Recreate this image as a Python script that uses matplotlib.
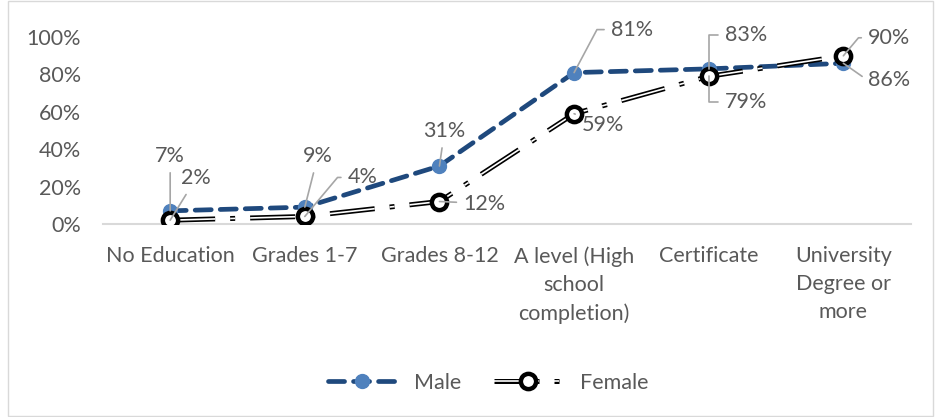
import matplotlib
matplotlib.use('Agg')
import matplotlib.pyplot as plt
from matplotlib.patches import Rectangle
from matplotlib.ticker import PercentFormatter

plt.rcParams['font.family'] = ['Lato', 'DejaVu Sans']

categories = ['No Education', 'Grades 1-7', 'Grades 8-12',
              'A level (High\nschool\ncompletion)', 'Certificate',
              'University\nDegree or\nmore']
male = [0.07, 0.09, 0.31, 0.81, 0.83, 0.86]
female = [0.02, 0.04, 0.12, 0.59, 0.79, 0.90]

# label offsets in pixels (text centre relative to point) and leader shape
male_offsets = [(0, 55), (13, 51), (5, 35), (58, 43), (37, 34), (46, -17)]
female_offsets = [(26, 42), (58, 39), (45, -2), (29, -11), (37, -26), (46, 18)]
male_conn = ['arc3', 'arc3', 'arc3', 'angle,angleA=0,angleB=62,rad=0',
             'angle,angleA=0,angleB=90,rad=0', 'angle,angleA=0,angleB=-35,rad=0']
female_conn = ['arc3', 'angle,angleA=0,angleB=50,rad=0', 'arc3', 'arc3',
               'angle,angleA=0,angleB=90,rad=0', 'angle,angleA=0,angleB=50,rad=0']

TEXT = '#595959'
LEADER = '#a6a6a6'
MALE_LINE = '#1f497d'
MALE_FILL = '#4f81bd'
DASH_F = (9, 3, 1, 3)
FS = 15.5

fig = plt.figure(figsize=(9.35, 4.17), dpi=100)
ax = fig.add_axes([0.110, 0.463, 0.864, 0.448])
x = list(range(len(categories)))

male_line, = ax.plot(x, male, color=MALE_LINE, lw=3.4, dashes=(3.4, 1.9),
                     dash_capstyle='round', marker='o', markersize=10,
                     markerfacecolor=MALE_FILL, markeredgecolor=MALE_FILL,
                     zorder=3, label='Male')

f_outer, = ax.plot(x, female, color='black', lw=3.6, dashes=DASH_F,
                   dash_capstyle='butt', zorder=4)
f_inner, = ax.plot(x, female, color='white', lw=1.2, dashes=[d * 3.6 / 1.2 for d in DASH_F],
                   dash_capstyle='butt', zorder=4)
f_mark, = ax.plot(x, female, ls='none', marker='o', markersize=11,
                  markerfacecolor='white', markeredgecolor='black',
                  markeredgewidth=3.2, zorder=5)

for i, v in enumerate(male):
    ax.annotate('{:.0%}'.format(v), xy=(i, v), xytext=male_offsets[i],
                textcoords='offset pixels', ha='center', va='center',
                fontsize=FS, color=TEXT, zorder=6,
                arrowprops=dict(arrowstyle='-', color=LEADER, lw=1.2,
                                shrinkA=3, shrinkB=0,
                                connectionstyle=male_conn[i]))
for i, v in enumerate(female):
    ax.annotate('{:.0%}'.format(v), xy=(i, v), xytext=female_offsets[i],
                textcoords='offset pixels', ha='center', va='center',
                fontsize=FS, color=TEXT, zorder=6,
                arrowprops=dict(arrowstyle='-', color=LEADER, lw=1.2,
                                shrinkA=3, shrinkB=0,
                                connectionstyle=female_conn[i]))

ax.set_xlim(-0.5, len(categories) - 0.5)
ax.set_ylim(0, 1.0)
ax.set_yticks([0, 0.2, 0.4, 0.6, 0.8, 1.0])
ax.yaxis.set_major_formatter(PercentFormatter(1.0, decimals=0))
ax.set_xticks(x)
ax.set_xticklabels(categories, linespacing=1.5)
ax.tick_params(axis='both', length=0, labelsize=FS, labelcolor=TEXT)
ax.tick_params(axis='x', pad=16)
ax.tick_params(axis='y', pad=16)
for side in ['top', 'right', 'left']:
    ax.spines[side].set_visible(False)
ax.spines['bottom'].set_color('#d9d9d9')
ax.spines['bottom'].set_linewidth(1.5)

fig.legend(handles=[male_line, (f_outer, f_inner, f_mark)],
           labels=['Male', 'Female'], loc='center', bbox_to_anchor=(0.522, 0.082),
           ncol=2, frameon=False, fontsize=FS, labelcolor=TEXT,
           handlelength=3.2, columnspacing=1.5, handletextpad=0.8)

fig.add_artist(Rectangle((0.009, 0.003), 0.989, 0.994, transform=fig.transFigure,
                         fill=False, edgecolor='#d9d9d9', lw=1))

fig.savefig('out.png', dpi=100)
